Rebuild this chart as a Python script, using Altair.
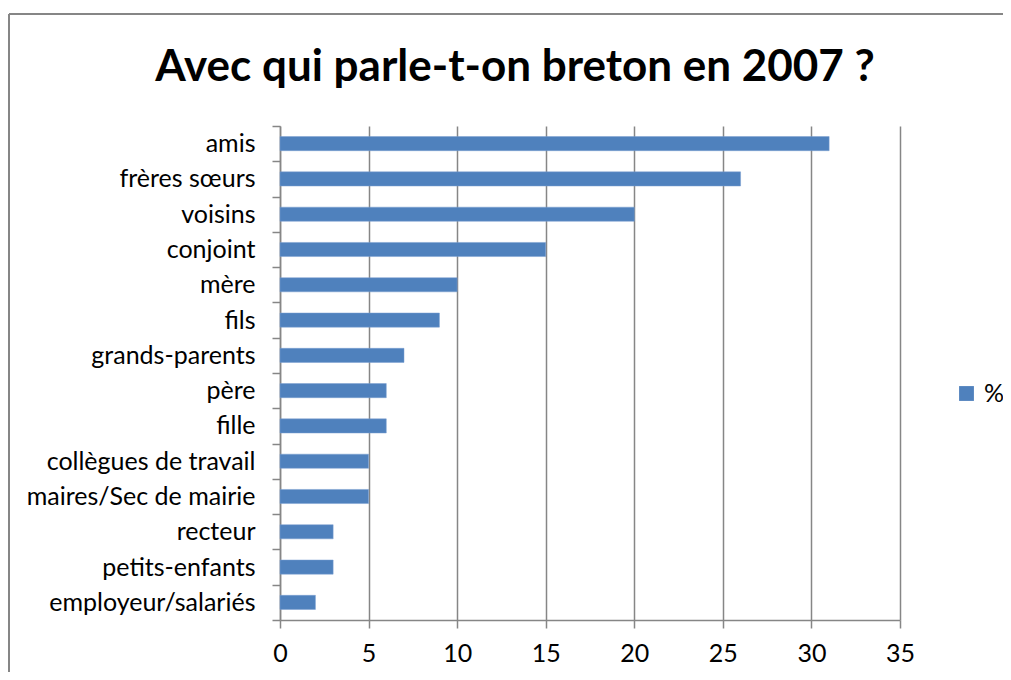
import altair as alt
import pandas as pd

categories = ["amis", "frères sœurs", "voisins", "conjoint", "mère", "fils",
              "grands-parents", "père", "fille", "collègues de travail",
              "maires/Sec de mairie", "recteur", "petits-enfants", "employeur/salariés"]
values = [31, 26, 20, 15, 10, 9, 7, 6, 6, 5, 5, 3, 3, 2]
series = ["%"] * len(categories)
title_text = "Avec qui parle-t-on breton en 2007 ?"

df = pd.DataFrame({"cat": categories, "val": values, "serie": series})

FONT = "Lato"
GRAY = "#868686"
LFS = 25

bars = alt.Chart(df).mark_bar(color="#4F81BD", stroke="#7A9FD0", strokeWidth=0.5,
                              height={"band": 0.4}).encode(
    x=alt.X("val:Q", scale=alt.Scale(domain=[0, 35], nice=False),
            axis=alt.Axis(values=[0, 5, 10, 15, 20, 25, 30, 35], title=None,
                          grid=True, gridColor=GRAY, gridWidth=1.5,
                          domainColor=GRAY, domainWidth=1.5, tickColor=GRAY, tickWidth=1.5,
                          tickSize=8, labelPadding=13, labelFontSize=LFS, labelFont=FONT,
                          labelFlush=False, labelColor="black")),
    y=alt.Y("cat:N", sort=categories, scale=alt.Scale(paddingInner=0, paddingOuter=0),
            axis=alt.Axis(title=None, tickBand="extent", grid=False,
                          domainColor=GRAY, domainWidth=1.5, tickColor=GRAY, tickWidth=1.5,
                          tickSize=8, labelPadding=17, labelFontSize=LFS, labelFont=FONT,
                          labelLimit=400, labelColor="black")),
    color=alt.Color("serie:N", scale=alt.Scale(range=["#4F81BD"]),
                    legend=alt.Legend(title=None, orient="none", legendX=674, legendY=255,
                                      symbolType="square", symbolSize=220, symbolStrokeWidth=0,
                                      labelOffset=5, labelFontSize=LFS, labelFont=FONT,
                                      labelColor="black")),
)

border_left = alt.Chart(df).mark_rule(color=GRAY, strokeWidth=2).encode(
    x=alt.value(-271), y=alt.value(-112), y2=alt.value(700))
border_top = alt.Chart(df).mark_rule(color=GRAY, strokeWidth=2).encode(
    x=alt.value(-271), x2=alt.value(800), y=alt.value(-112))

title = alt.Chart(df).transform_filter(alt.datum.cat == "amis").mark_text(
    font=FONT, fontSize=44, fontWeight="bold", color="black", align="center",
    baseline="alphabetic").encode(
    x=alt.value(235), y=alt.value(-45), text=alt.value(title_text))

chart = alt.layer(border_left, border_top, bars, title).properties(
    width=620, height=494,
    autosize=alt.AutoSizeParams(type="none"),
    padding={"left": 272, "top": 118, "right": 103, "bottom": 52},
).configure_view(stroke=None)

chart.save("out.html", embed_options={"renderer": "svg", "actions": False})
